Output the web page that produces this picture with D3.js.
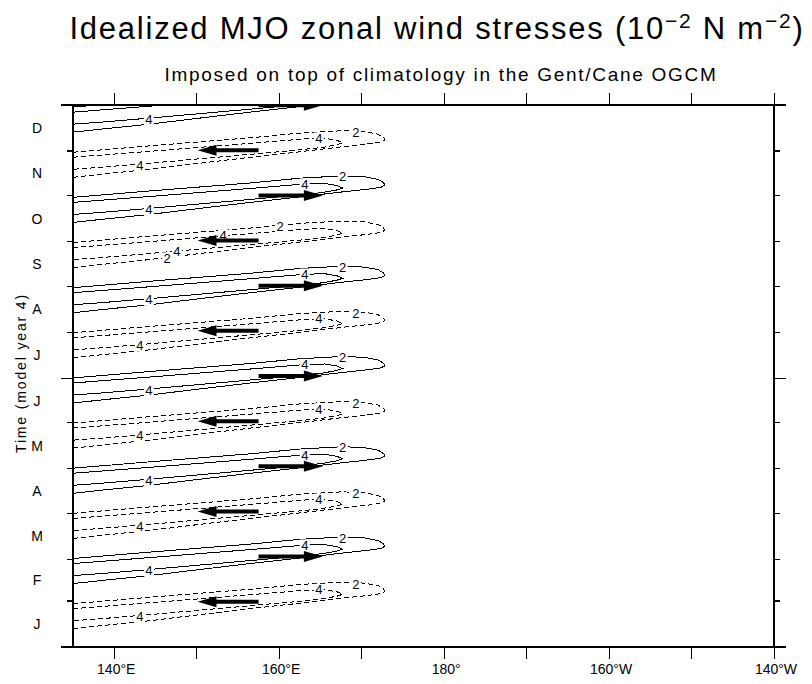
<!DOCTYPE html>
<html><head><meta charset="utf-8">
<script src="https://cdn.jsdelivr.net/npm/d3@7"></script>
<style>
html,body{margin:0;padding:0;background:#fff;}
svg{display:block;}
text{font-family:"Liberation Sans", Arial, sans-serif; fill:#000;}
</style></head><body>
<svg id="chart" width="812" height="684"></svg>
<script>
// ---------------- data ----------------
const monthLabels = ["J","F","M","A","M","J","J","A","S","O","N","D"];
const monthStarts = [0,31,59,90,120,151,181,212,243,273,304,334,365];
const majorMonthTicks = [0,181,365];
const lonTicks = [140,150,160,170,180,190,200,210,220];
const lonLabelValues = [140,160,180,200,220];
const lonLabelTexts = ["140°E","160°E","180°","160°W","140°W"];

// centre day (day of model year 4) of each wind-stress pulse
const westerlyDays = [60.9, 121.7, 182.5, 243.3, 304.1, 364.9];   // positive, solid
const easterlyDays = [30.5, 91.3, 152.1, 212.9, 273.7, 334.5];    // negative, dashed

// contour outlines of one pulse: [longitude °E, day offset from pulse centre]
const contour2Shape = [[135,-1.3],[144.3,3.0],[156.5,8.4],[162.5,11.6],[167.7,13.2],[170.4,12.5],
  [172.0,10.8],[172.7,8.4],[172.75,6.7],[172.3,5.4],[170.4,4.0],[167.7,2.4],[162.5,-1.0],
  [156.5,-4.7],[150.4,-8.7],[144.3,-12.8],[138.3,-16.2],[135,-18.2]];
const contour4Shape = [[135,-4.7],[144.3,-0.7],[150.4,2.0],[156.5,4.7],[163.1,7.7],[165.5,8.1],
  [167.0,6.7],[167.7,5.0],[167.0,3.7],[165.3,2.0],[162.5,0.3],[156.5,-2.7],[150.4,-5.7],
  [144.3,-8.7],[138.3,-11.5],[135,-12.8]];

// arrows: [tail lon, head lon]
const westerlyArrow = [157.5, 165.3];
const easterlyArrow = [157.5, 150.1];

// contour labels: [text, lon, day offset]
const westerlyLabels = [["2",167.7,12.5],["4",163.1,7.5],["4",144.2,-9.5]];
const easterlyLabels = [["2",169.3,11.8],["4",164.8,8.0],["4",143.1,-10.0]];
const easterlyLabelsOct = [["2",160.1,9.8],["4",153.2,3.7],["4",147.6,-7.3],["2",146.4,-12.0]];
const easterlyLabelSets = [easterlyLabels,easterlyLabels,easterlyLabels,easterlyLabels,easterlyLabelsOct,easterlyLabels];

// ---------------- layout ----------------
const L = 73, R = 774, T = 105, B = 647;
const svg = d3.select("#chart");
const x = d3.scaleLinear().domain([135,220]).range([L,R]);
const y = d3.scaleLinear().domain([0,365]).range([B,T]);

svg.append("defs").append("clipPath").attr("id","plotclip")
  .append("rect").attr("x",L).attr("y",T).attr("width",R-L).attr("height",B-T);

const plot = svg.append("g").attr("clip-path","url(#plotclip)");

function drawBand(day, dashed, arrow, labels){
  const g = plot.append("g");
  const line = d3.line().x(d=>x(d[0])).y(d=>y(day+d[1]));
  [contour2Shape, contour4Shape].forEach(s=>{
    g.append("path").attr("d", line(s)).attr("fill","none").attr("stroke","#000")
      .attr("stroke-width",1).attr("shape-rendering","crispEdges")
      .attr("stroke-dasharray", dashed ? "5,3" : null);
  });
  labels.filter(lb => day+lb[2] > 3 && day+lb[2] < 362).forEach(lb=>{
    const cx = x(lb[1]), cy = y(day+lb[2]);
    g.append("rect").attr("x",cx-5).attr("y",cy-6).attr("width",10).attr("height",12).attr("fill","#fff");
    g.append("text").attr("x",cx).attr("y",cy+4.5).attr("text-anchor","middle")
      .style("font-size","13px").text(lb[0]);
  });
  const yy = y(day);
  const x0 = x(arrow[0]), x1 = x(arrow[1]);
  const dir = x1 > x0 ? 1 : -1;
  const hl = 19, hw = 5.5;
  g.append("line").attr("x1",x0).attr("x2",x1-dir*hl+dir*2).attr("y1",yy).attr("y2",yy)
    .attr("stroke","#000").attr("stroke-width",4);
  g.append("path").attr("d", `M${x1},${yy} L${x1-dir*hl},${yy-hw} L${x1-dir*hl},${yy+hw} Z`)
    .attr("fill","#000");
}
westerlyDays.forEach(d=>drawBand(d,false,westerlyArrow,westerlyLabels));
easterlyDays.forEach((d,i)=>drawBand(d,true,easterlyArrow,easterlyLabelSets[i]));

// ---------------- axes ----------------
const ax = svg.append("g");
lonTicks.forEach(v=>{
  ax.append("line").attr("x1",x(v)).attr("x2",x(v)).attr("y1",T).attr("y2",T-12).attr("stroke","#000").attr("stroke-width",1);
  ax.append("line").attr("x1",x(v)).attr("x2",x(v)).attr("y1",B).attr("y2",B+12).attr("stroke","#000").attr("stroke-width",1);
});
monthStarts.forEach(v=>{
  const len = majorMonthTicks.includes(v) ? 12 : 6;
  ax.append("line").attr("x1",L).attr("x2",L-len).attr("y1",y(v)).attr("y2",y(v)).attr("stroke","#000").attr("stroke-width",1.3);
  ax.append("line").attr("x1",R).attr("x2",R+len).attr("y1",y(v)).attr("y2",y(v)).attr("stroke","#000").attr("stroke-width",1.3);
});
[[L,T,R,T],[L,B,R,B],[L,T,L,B],[R,T,R,B]].forEach(s=>{
  ax.append("line").attr("x1",s[0]).attr("y1",s[1]).attr("x2",s[2]).attr("y2",s[3])
    .attr("stroke","#000").attr("stroke-width",1.6);
});
ax.selectAll("line").attr("shape-rendering","crispEdges");

lonLabelValues.forEach((v,i)=>{
  svg.append("text").attr("x",x(v)+2).attr("y",674).attr("text-anchor","middle")
    .style("font-size","14px").text(lonLabelTexts[i]);
});
monthLabels.forEach((m,i)=>{
  const mid = (monthStarts[i]+monthStarts[i+1])/2;
  svg.append("text").attr("x",37).attr("y",y(mid)+5).attr("text-anchor","middle")
    .style("font-size","14px").text(m);
});

function fit(el, w){
  const n = el.node();
  const cur = n.getComputedTextLength();
  const chars = n.textContent.length;
  const ls = Math.max(0,(w-cur)/chars);
  el.style("letter-spacing", ls+"px");
}
const yt = svg.append("text").attr("transform","translate(26,373) rotate(-90)").attr("text-anchor","middle")
  .style("font-size","14px").text("Time (model year 4)");
fit(yt,160);

const t = svg.append("text").attr("x",437).attr("y",39).attr("text-anchor","middle").style("font-size","31px");
t.append("tspan").text("Idealized MJO zonal wind stresses (10");
t.append("tspan").attr("dy",-11).style("font-size","21px").text("\u22122");
t.append("tspan").attr("dy",11).text(" N m");
t.append("tspan").attr("dy",-11).style("font-size","21px").text("\u22122");
t.append("tspan").attr("dy",11).text(")");
fit(t,735);

const st = svg.append("text").attr("x",441).attr("y",81).attr("text-anchor","middle")
  .style("font-size","19px").text("Imposed on top of climatology in the Gent/Cane OGCM");
fit(st,553);
</script>
</body></html>
